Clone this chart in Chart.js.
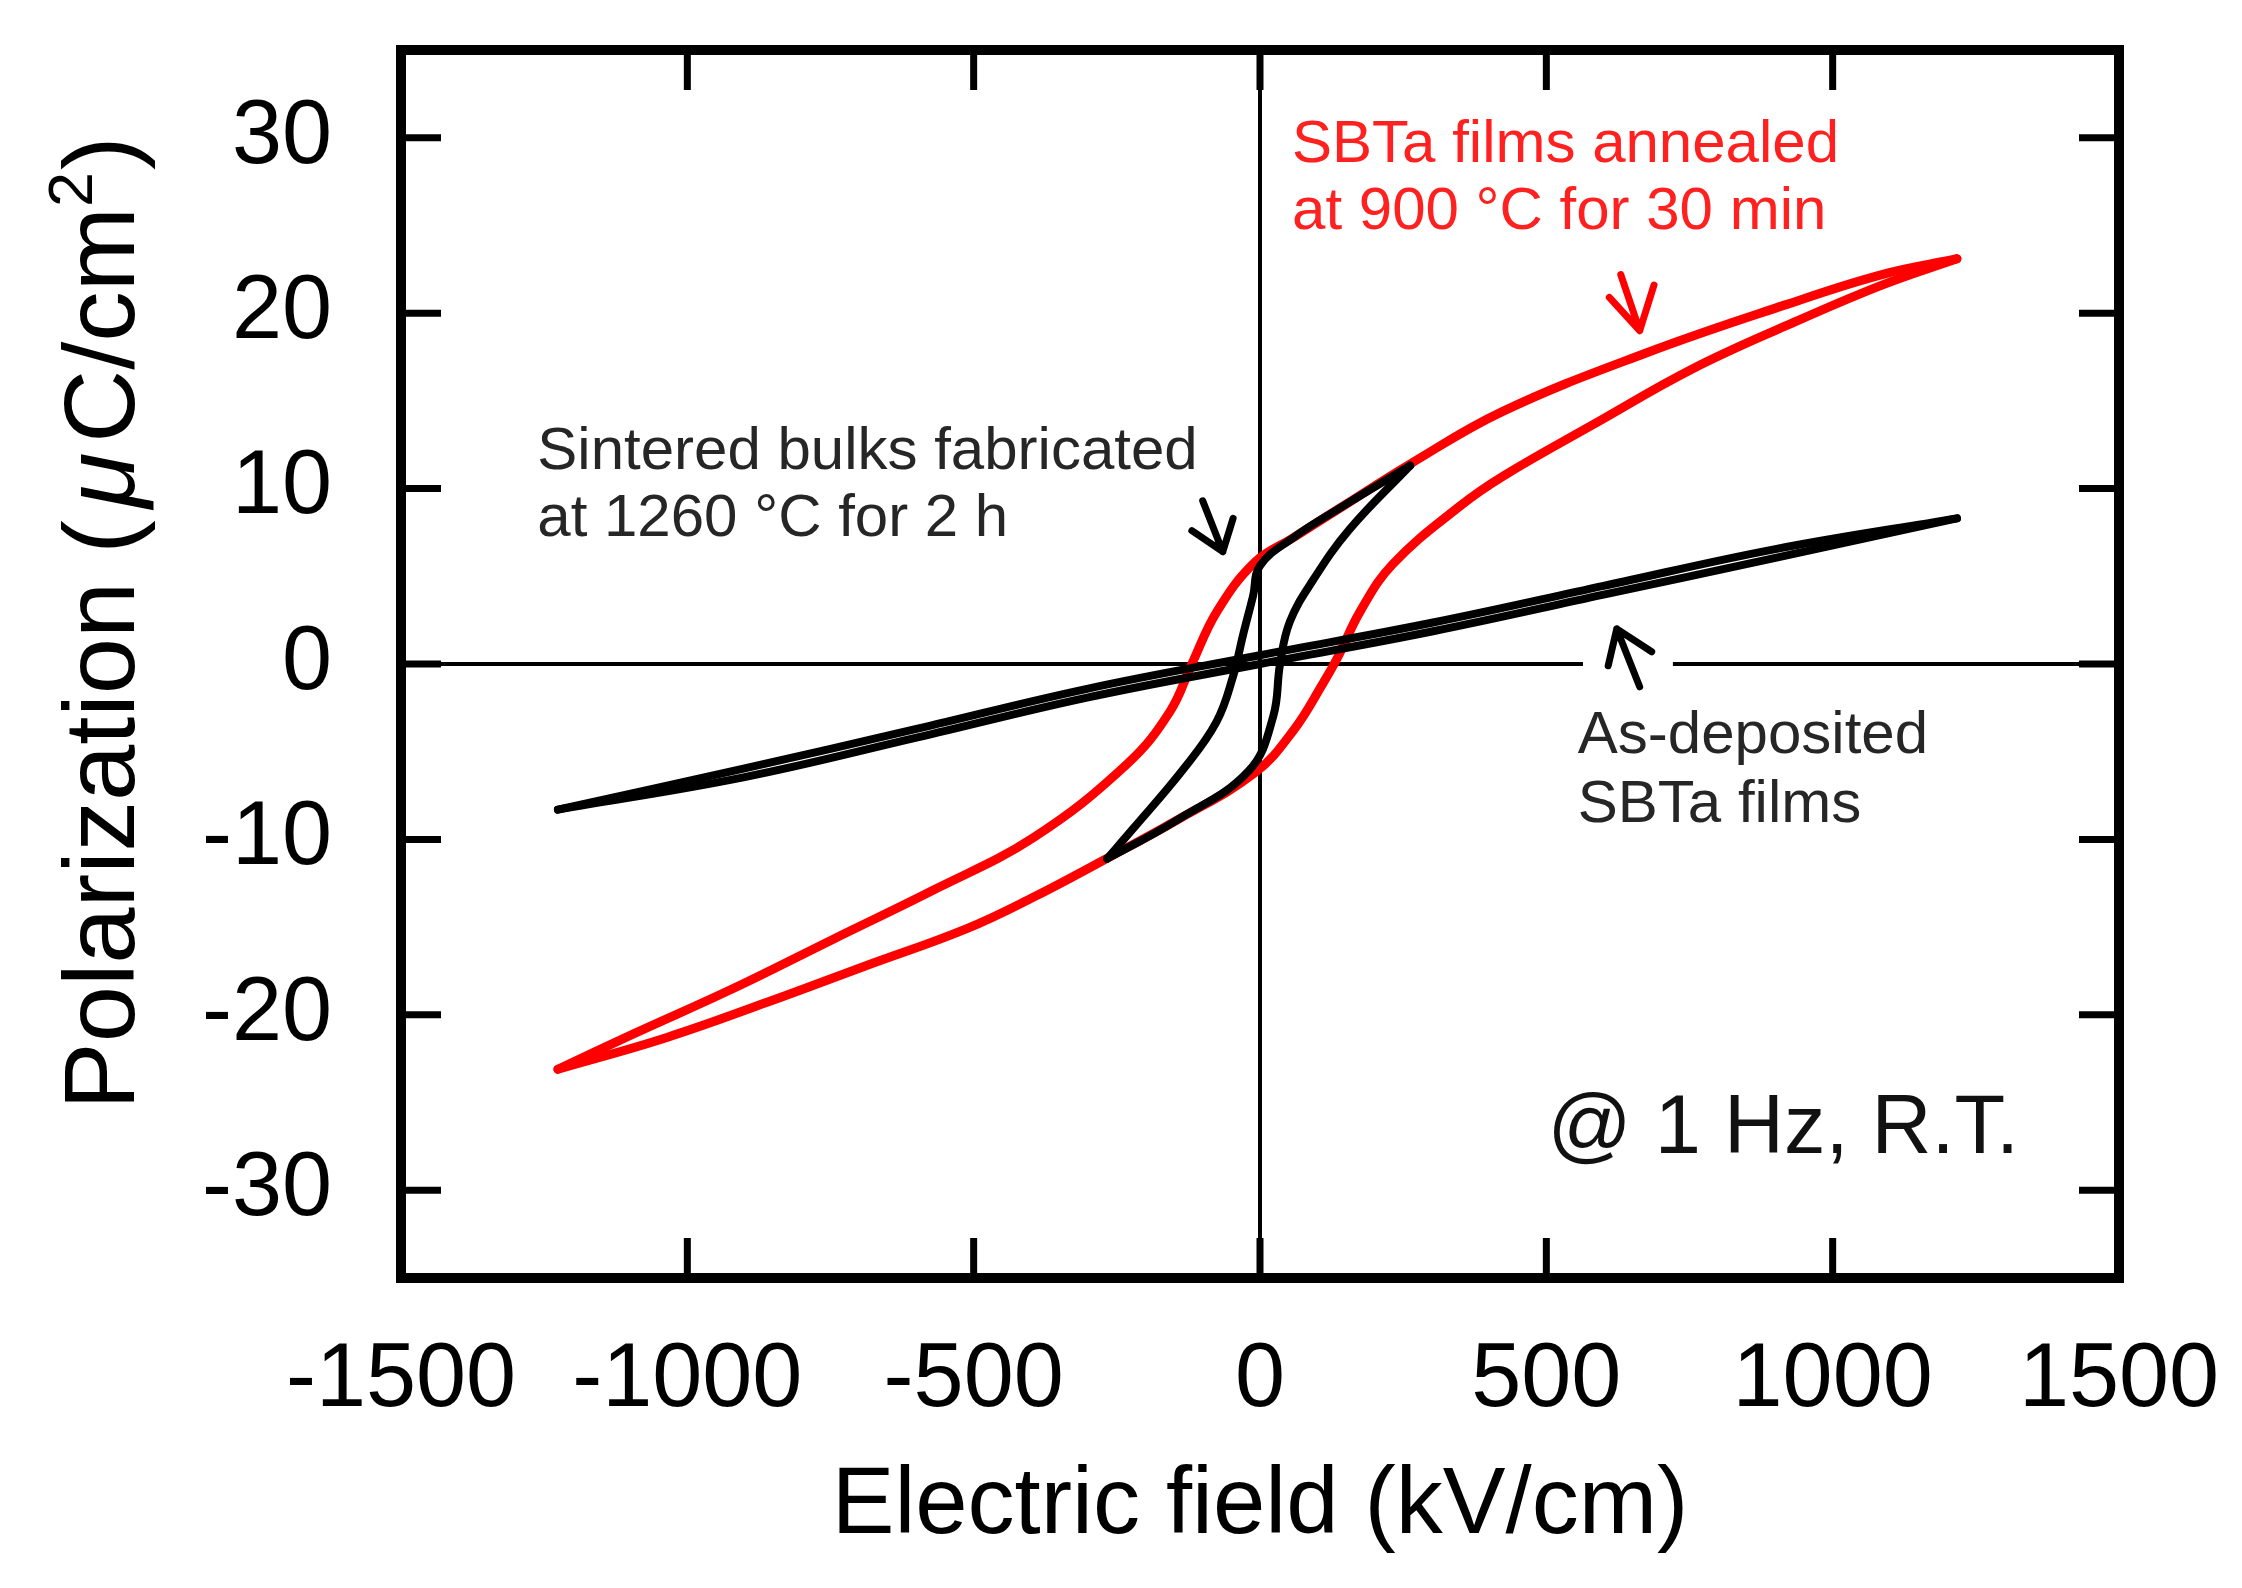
<!DOCTYPE html>
<html>
<head>
<meta charset="utf-8">
<script src="https://cdn.jsdelivr.net/npm/chart.js@4.4.0/dist/chart.umd.min.js"></script>
<style>
  html, body { margin: 0; padding: 0; background: #fff; }
  #wrap { width: 2242px; height: 1588px; }
</style>
</head>
<body>
<div id="wrap"><canvas id="peChart" width="2242" height="1588"></canvas></div>
<script>
// P-E hysteresis loops
// x = electric field (kV/cm), y = polarization (uC/cm2)

// SBTa films annealed at 900 C, falling branch (+Emax -> -Emax)
const annealedDownE = [1217, 1086, 920, 672, 424, 262, 145, 58, -9, -75, -119, -157, -232, -396, -571, -746, -920, -1095, -1226];
const annealedDownP = [23.1, 22.2, 20.5, 17.7, 14.4, 11.4, 9.0, 7.2, 5.8, 3.0, 0, -2.7, -5.7, -9.9, -12.9, -15.7, -18.5, -21.1, -23.1];
// rising branch (-Emax -> +Emax)
const annealedUpE = [-1226, -1037, -862, -688, -513, -396, -274, -145, -9, 58, 110, 136, 175, 232, 349, 424, 590, 754, 920, 1086, 1217];
const annealedUpP = [-23.1, -21.3, -19.3, -17.2, -15.1, -13.3, -11.2, -8.9, -6.2, -3.8, -1.1, 0.4, 3.0, 5.7, 9.0, 10.7, 13.8, 16.8, 19.3, 21.6, 23.1];

// sintered bulk (1260 C, 2 h); the outer parts run under the red loop
const bulkDownE = [262, 145, 58, 0, -12, -30, -47, -76, -134, -222, -267];
const bulkDownP = [11.3, 9.0, 7.2, 5.6, 3.9, 1.6, -0.7, -3.3, -6.0, -9.4, -11.1];
const bulkUpE = [-267, -145, -20, 23, 35, 52, 93, 157, 262];
const bulkUpP = [-11.1, -8.9, -6.1, -3.0, 0, 2.4, 4.8, 7.7, 11.3];

// as-deposited SBTa films (almost linear, very slim loop)
const depDownE = [1217, 900, 600, 300, 0, -300, -600, -900, -1226];
const depDownP = [8.3, 6.55, 4.45, 2.35, 0.5, -1.4, -3.7, -5.95, -8.3];
const depUpE = [-1226, -900, -600, -300, 0, 300, 600, 900, 1217];
const depUpP = [-8.3, -6.45, -4.2, -1.9, 0.0, 1.85, 3.95, 6.05, 8.3];

// axes: labelled every xLabelStep / yLabelStep, minor ticks in between
const xMin = -1500, xMax = 1500, xStep = 250, xLabelStep = 500;
const yMin = -35, yMax = 35, yStep = 5, yLabelStep = 10;

const FONT = "'Liberation Sans', Arial, Helvetica, sans-serif";
const RED = "#ff0000";

// text notes inside the plot (anchored in data units)
const notes = [
    { lines: ["Sintered bulks fabricated", "at 1260 \u00B0C for 2 h"], x: -1262, y: [11.1, 7.3], color: "#262626", size: 60 },
    { lines: ["SBTa films annealed", "at 900 \u00B0C for 30 min"], x: 56, y: [28.6, 24.8], color: "#ff2020", size: 60 },
    { lines: ["As-deposited", "SBTa films"], x: 555, y: [-5.1, -9.0], color: "#262626", size: 60 },
    { lines: ["@ 1 Hz, R.T."], x: 502, y: [-27.9], color: "#111", size: 83 }
];

// arrows: tail, tip, two head ends (data units)
const arrows = [
    { color: RED, tail: [630, 22.2], tip: [663, 19.0], left: [610, 20.9], right: [688, 21.6] },
    { color: "#000", tail: [-100, 9.3], tip: [-65, 6.4], left: [-119, 7.6], right: [-47, 8.3] },
    { color: "#000", tail: [663, -1.3], tip: [623, 2.0], left: [608, -0.1], right: [684, 0.7] }
];

function toPoints(xs, ys) {
    return xs.map((v, i) => ({ x: v, y: ys[i] }));
}

function branch(xs, ys, color, width) {
    return {
        data: toPoints(xs, ys),
        showLine: true,
        borderColor: color,
        borderWidth: width,
        pointRadius: 0,
        fill: false,
        tension: 0.4,
        borderCapStyle: "round",
        borderJoinStyle: "round"
    };
}

// frame, inward ticks, y title, notes, arrows
const decorPlugin = {
    id: "decor",
    afterDraw(chart) {
        const { ctx, chartArea: a, scales } = chart;
        const sx = scales.x, sy = scales.y;
        const px = v => sx.getPixelForValue(v);
        const py = v => sy.getPixelForValue(v);

        ctx.save();

        // gap in the zero line behind the as-deposited arrow
        ctx.fillStyle = "#fff";
        ctx.fillRect(px(564), py(0.6), px(721) - px(564), py(-0.6) - py(0.6));

        // ticks pointing inwards on all four sides
        ctx.strokeStyle = "#000";
        ctx.lineWidth = 7;
        ctx.lineCap = "butt";
        const major = 40, minor = 20;
        sx.ticks.forEach(t => {
            const p = px(t.value);
            if (p <= a.left + 2 || p >= a.right - 2) return;
            const len = t.value % xLabelStep === 0 ? major : minor;
            ctx.beginPath();
            ctx.moveTo(p, a.bottom); ctx.lineTo(p, a.bottom - len);
            ctx.moveTo(p, a.top); ctx.lineTo(p, a.top + len);
            ctx.stroke();
        });
        sy.ticks.forEach(t => {
            const p = py(t.value);
            if (p <= a.top + 2 || p >= a.bottom - 2) return;
            const len = t.value % yLabelStep === 0 ? major : minor;
            ctx.beginPath();
            ctx.moveTo(a.left, p); ctx.lineTo(a.left + len, p);
            ctx.moveTo(a.right, p); ctx.lineTo(a.right - len, p);
            ctx.stroke();
        });

        // frame
        ctx.lineWidth = 10;
        ctx.lineJoin = "miter";
        ctx.strokeRect(a.left, a.top, a.right - a.left, a.bottom - a.top);

        // notes
        ctx.textBaseline = "alphabetic";
        ctx.textAlign = "left";
        notes.forEach(n => {
            ctx.fillStyle = n.color;
            ctx.font = n.size + "px " + FONT;
            n.lines.forEach((t, i) => ctx.fillText(t, px(n.x), py(n.y[i])));
        });

        // arrows
        ctx.lineWidth = 7;
        ctx.lineCap = "round";
        ctx.lineJoin = "round";
        arrows.forEach(ar => {
            ctx.strokeStyle = ar.color;
            ctx.beginPath();
            ctx.moveTo(px(ar.tail[0]), py(ar.tail[1]));
            ctx.lineTo(px(ar.tip[0]), py(ar.tip[1]));
            ctx.moveTo(px(ar.left[0]), py(ar.left[1]));
            ctx.lineTo(px(ar.tip[0]), py(ar.tip[1]));
            ctx.lineTo(px(ar.right[0]), py(ar.right[1]));
            ctx.stroke();
        });

        // y axis title with italic mu and superscript 2
        const size = 101;
        const parts = [
            { t: "Polarization (", f: size + "px " + FONT, gap: 0.12 },
            { t: "\u03BC", f: "italic " + size + "px " + FONT, gap: 0.1 },
            { t: "C/cm", f: size + "px " + FONT, gap: 0 },
            { t: "2", f: Math.round(size * 0.62) + "px " + FONT, gap: 0.02, dy: -size * 0.42 },
            { t: ")", f: size + "px " + FONT, gap: 0 }
        ];
        let total = 0;
        parts.forEach(p => {
            ctx.font = p.f;
            p.w = ctx.measureText(p.t).width;
            total += p.w + p.gap * size;
        });
        ctx.translate(134, 623);
        ctx.rotate(-Math.PI / 2);
        ctx.fillStyle = "#000";
        let cx = -total / 2;
        parts.forEach(p => {
            ctx.font = p.f;
            ctx.fillText(p.t, cx, p.dy || 0);
            cx += p.w + p.gap * size;
        });

        ctx.restore();
    }
};

const zeroGrid = {
    color: c => (c.tick && c.tick.value === 0 ? "#000" : "rgba(0,0,0,0)"),
    lineWidth: 4,
    drawTicks: false
};

function noPad(s) {
    s.paddingLeft = 0; s.paddingRight = 0;
    s.paddingTop = 0; s.paddingBottom = 0;
}

new Chart(document.getElementById("peChart"), {
    type: "scatter",
    data: {
        datasets: [
            branch(depDownE, depDownP, "#000", 8),
            branch(depUpE, depUpP, "#000", 8),
            branch(bulkDownE, bulkDownP, "#000", 8),
            branch(bulkUpE, bulkUpP, "#000", 8),
            branch(annealedDownE, annealedDownP, RED, 9),
            branch(annealedUpE, annealedUpP, RED, 9)
        ]
    },
    options: {
        responsive: false,
        animation: false,
        devicePixelRatio: 1,
        layout: { padding: { left: 0, top: 50, right: 123, bottom: 0 } },
        plugins: { legend: { display: false }, tooltip: { enabled: false } },
        scales: {
            x: {
                type: "linear",
                min: xMin,
                max: xMax,
                afterFit(s) { s.height = 310; noPad(s); },
                ticks: {
                    stepSize: xStep,
                    autoSkip: false,
                    padding: 49,
                    color: "#000",
                    font: { size: 90, family: FONT },
                    maxRotation: 0,
                    callback: v => (v % xLabelStep === 0 ? String(v) : null)
                },
                grid: zeroGrid,
                border: { display: false },
                title: {
                    display: true,
                    text: "Electric field (kV/cm)",
                    color: "#000",
                    font: { size: 94, family: FONT },
                    padding: { top: 0, bottom: 25 }
                }
            },
            y: {
                type: "linear",
                min: yMin,
                max: yMax,
                afterFit(s) { s.width = 401; noPad(s); },
                ticks: {
                    stepSize: yStep,
                    autoSkip: false,
                    padding: 69,
                    color: "#000",
                    font: { size: 90, family: FONT },
                    callback: v => (v % yLabelStep === 0 ? String(v) : null)
                },
                grid: zeroGrid,
                border: { display: false }
            }
        }
    },
    plugins: [decorPlugin]
});
</script>
</body>
</html>
